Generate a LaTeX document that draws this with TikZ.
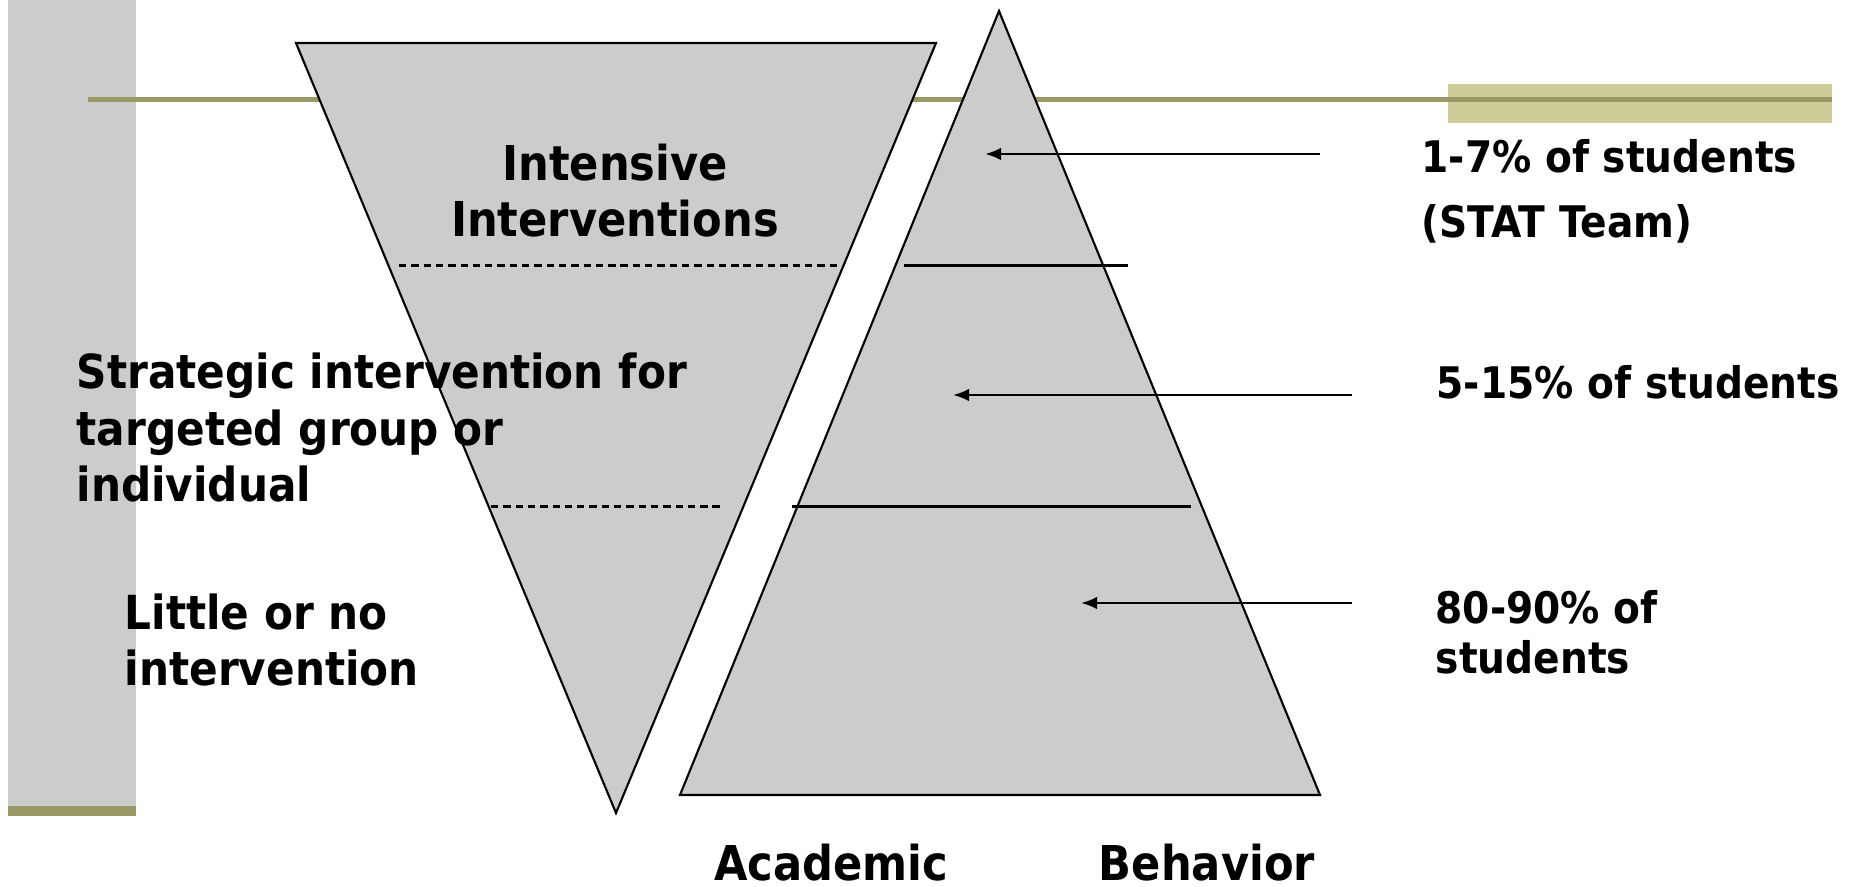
\documentclass[tikz,border=0pt]{standalone}
\usepackage{fontspec}
\usetikzlibrary{arrows.meta}
\newfontfamily\slidefont[FakeStretch=0.9]{DejaVu Sans}
\definecolor{barGray}{HTML}{CCCCCC}
\definecolor{lineOlive}{HTML}{999966}
\definecolor{paleOlive}{HTML}{CCCC99}
\tikzset{
    bigtext/.style   = {font=\slidefont\bfseries\fontsize{13.66}{16.2}\selectfont, inner sep=0pt, align=left},
    sidetext/.style  = {font=\slidefont\bfseries\fontsize{13.35}{16.2}\selectfont, inner sep=0pt, align=left},
    smalltext/.style = {font=\slidefont\bfseries\fontsize{12.38}{14.4}\selectfont, inner sep=0pt, align=left},
    divider/.style   = {line width=0.85pt},
    pointer/.style   = {line width=0.7pt, -{Latex[length=4.6pt, width=3.6pt]}},
}
\begin{document}
\begin{tikzpicture}
        \useasboundingbox (0, 0) rectangle (18.58, -8.87);
        % slide decoration
        \fill[barGray]   (0.08,  0)    rectangle (1.36, -8.06);
        \fill[lineOlive] (0.08, -8.06) rectangle (1.36, -8.16);
        \fill[paleOlive] (14.48, -0.84) rectangle (18.32, -1.23);
        \draw[lineOlive, line width=1.42pt] (0.88, -1.00) -- (18.32, -1.00);
        % the two triangles
        \draw[fill=barGray, line width=0.6pt] (2.96, -0.43) -- (9.36, -0.43) -- (6.16, -8.13) -- cycle;
        \draw[fill=barGray, line width=0.6pt] (9.99, -0.11) -- (13.20, -7.95) -- (6.80, -7.95) -- cycle;
        \draw[divider, dash pattern=on 2.1pt off 1.4pt] (3.99, -2.66) -- (8.41, -2.66);
        \draw[divider, dash pattern=on 2.1pt off 1.4pt] (4.91, -5.07) -- (7.23, -5.07);
        \draw[divider] (9.04, -2.66) -- (11.28, -2.66);
        \draw[divider] (7.92, -5.07) -- (11.91, -5.07);
        % arrows into the tiers
        \coordinate (tail1) at (13.20, -1.54);  \coordinate (tip1) at (9.85,  -1.54);
        \coordinate (tail2) at (13.52, -3.95);  \coordinate (tip2) at (9.53,  -3.95);
        \coordinate (tail3) at (13.52, -6.03);  \coordinate (tip3) at (10.81, -6.03);
        \draw[pointer] (tail1) -- (tip1);
        \draw[pointer] (tail2) -- (tip2);
        \draw[pointer] (tail3) -- (tip3);
        % labels (base anchor sits on the last line)
        \node[bigtext, align=center, anchor=base] (intensive) at (6.15, -2.37) {Intensive\\Interventions};
        \node[sidetext, anchor=base west] (strategic) at (0.76, -5.02) {Strategic intervention for\\targeted group or\\individual};
        \node[sidetext, anchor=base west] (little)    at (1.24, -6.86) {Little or no\\intervention};
        \node[smalltext, anchor=base west] (tier3) at (14.21, -1.73) {1-7\% of students};
        \node[smalltext, anchor=base west] (stat)  at (14.21, -2.38) {(STAT Team)};
        \node[smalltext, anchor=base west] (tier2) at (14.36, -3.99) {5-15\% of students};
        \node[smalltext, anchor=base west] (tier1) at (14.35, -6.74) {80-90\% of\\students};
        \node[bigtext, anchor=base] (academic) at (8.31,  -8.81) {Academic};
        \node[bigtext, anchor=base] (behavior) at (12.07, -8.81) {Behavior};
    \end{tikzpicture}
\end{document}
